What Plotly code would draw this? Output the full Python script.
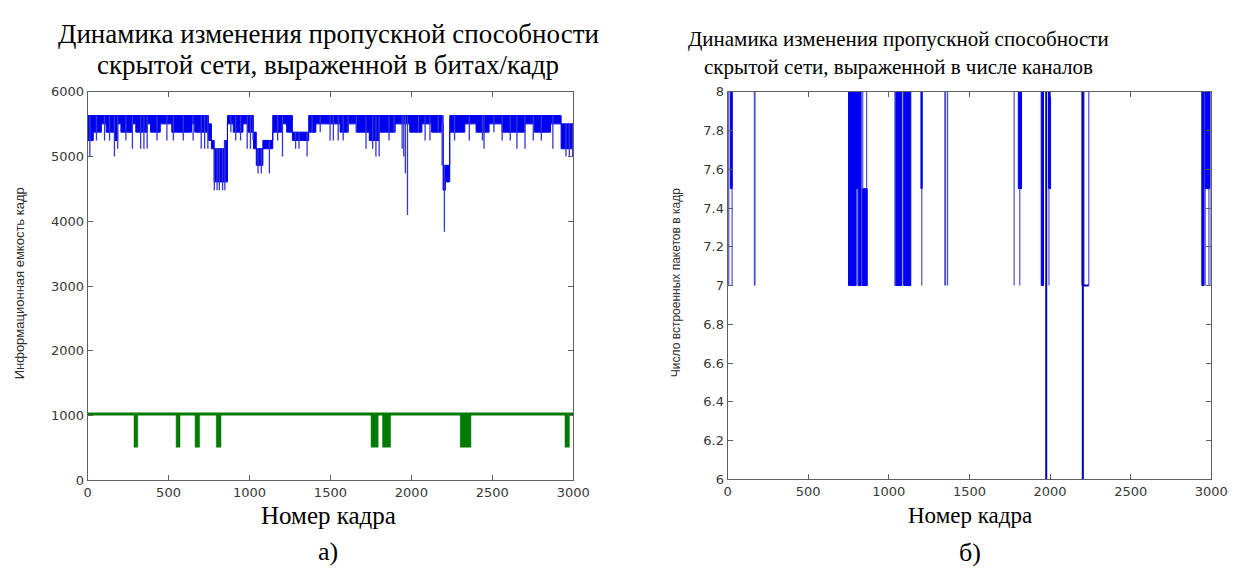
import plotly.graph_objects as go

# ---------------- Left chart data (bits per frame) ----------------
band_edges = [0, 35, 85, 115, 166, 186, 206, 277, 298, 368, 389, 449, 470, 520, 642, 662,
              747, 765, 782, 845, 864, 900, 960, 990, 1025, 1042, 1083, 1144, 1200, 1230,
              1265, 1366, 1410, 1560, 1610, 1660, 1740, 1800, 1832, 1900, 1960, 1990, 2065,
              2125, 2185, 2196, 2210, 2237, 2330, 2400, 2480, 2560, 2700, 2760, 2860, 2925, 3000]
band_top = [5632, 5632, 5632, 5632, 5632, 5632, 5632, 5632, 5632, 5632, 5632, 5632, 5632, 5632,
            5632, 5632, 5504, 5248, 5120, 5248, 5632, 5632, 5632, 5632, 5376, 5120, 5248, 5632,
            5632, 5632, 5376, 5632, 5632, 5632, 5632, 5632, 5632, 5632, 5632, 5632, 5632, 5632,
            5632, 5632, 5632, 4864, 4864, 5632, 5632, 5632, 5632, 5632, 5632, 5632, 5632, 5504]
band_bottom = [5248, 5376, 5504, 5376, 5248, 5504, 5376, 5504, 5376, 5504, 5376, 5504, 5504, 5376,
               5504, 5376, 5248, 5120, 4608, 4608, 5504, 5376, 5504, 5376, 5120, 4864, 5120, 5376,
               5504, 5376, 5248, 5376, 5504, 5376, 5504, 5376, 5248, 5376, 5376, 5504, 5504, 5376,
               5504, 5376, 5504, 4480, 4608, 5376, 5504, 5376, 5504, 5376, 5504, 5376, 5504, 5120]

spike_frames = [14, 55, 105, 136, 166, 186, 237, 277, 328, 348, 368, 429, 490, 530, 591, 652,
                702, 723, 743, 783, 800, 814, 834, 848, 885, 915, 945, 986, 1006, 1022, 1053,
                1073, 1123, 1174, 1204, 1285, 1306, 1356, 1387, 1437, 1498, 1518, 1548, 1579,
                1609, 1660, 1720, 1761, 1781, 1801, 1862, 1893, 1943, 1953, 1963, 1976, 2044,
                2085, 2115, 2166, 2190, 2204, 2267, 2358, 2439, 2449, 2510, 2561, 2611, 2652,
                2702, 2753, 2803, 2874, 2955, 2976, 2996]
spike_levels = [5000, 5248, 5248, 5248, 5000, 5120, 5248, 5120, 5120, 5120, 5120, 5248, 5248, 5248,
                5248, 5248, 5120, 5120, 5120, 4480, 4480, 4480, 4480, 4480, 5376, 5248, 5248, 5120,
                5120, 5248, 4736, 4736, 4736, 5248, 5000, 5120, 5120, 5000, 5376, 5376, 5248, 5248,
                5248, 5248, 5376, 5376, 5120, 5120, 5000, 5000, 5248, 5376, 5120, 5000, 4736, 4096,
                5376, 5248, 5248, 5376, 4864, 3840, 5248, 5248, 5248, 5120, 5376, 5248, 5248, 5120,
                5120, 5248, 5248, 5120, 5000, 5000, 5000]

green_high = 1024
green_low = 512
green_dip_start = [287, 547, 664, 795, 1751, 1822, 2302, 2949]
green_dip_end = [310, 571, 692, 824, 1795, 1872, 2368, 2976]

# ---------------- Right chart data (number of channels) ----------------
chan_base = 8
chan_block_start = [17, 750, 797, 810, 835, 1040, 1092, 1199, 1803, 1945, 1990, 2941, 2961]
chan_block_end = [29, 797, 810, 828, 866, 1081, 1136, 1207, 1823, 1959, 2003, 2955, 2992]
chan_block_top = [8, 8, 8, 8, 7.5, 8, 8, 8, 8, 8, 8, 8, 8]
chan_block_bottom = [7.5, 7, 7.5, 7, 7, 7, 7, 7.5, 7.5, 7, 7.5, 7, 7.5]

chan_line_frames = [7, 28, 166, 170, 803, 838, 862, 1038, 1204, 1347, 1352, 1364, 1777,
                    1812, 1993, 2197, 2210, 2240, 2962, 2985, 2998]
chan_line_top = [8, 7.5, 8, 8, 7.5, 8, 8, 8, 7.5, 8, 8, 8, 8, 7.5, 7.5, 8, 8, 8, 7.5, 7.5, 7.5]
chan_line_bottom = [7, 7, 7, 7, 7, 7.5, 7.5, 7, 7, 7, 7, 7, 7, 7, 7, 7, 7, 7, 7, 7, 7]

chan_deep_frames = [1976, 2203]
chan_deep_level = [6, 6]
chan_hold_start = [2203]
chan_hold_end = [2240]
chan_hold_level = [7]

x_ticks = [0, 500, 1000, 1500, 2000, 2500, 3000]
left_y_ticks = [0, 1000, 2000, 3000, 4000, 5000, 6000]
right_y_ticks = [6, 6.2, 6.4, 6.6, 6.8, 7, 7.2, 7.4, 7.6, 7.8, 8]
right_y_text = ["6", "6.2", "6.4", "6.6", "6.8", "7", "7.2", "7.4", "7.6", "7.8", "8"]

title_left = ["Динамика изменения пропускной способности",
              "скрытой сети, выраженной в битах/кадр"]
title_right = ["Динамика изменения пропускной способности",
               "скрытой сети, выраженной в числе каналов"]
ylabel_left = "Информационная емкость кадр"
ylabel_right = "Число встроенных пакетов в кадр"
xlabel = "Номер кадра"

# ---------------- Build traces ----------------
fig = go.Figure()

# blue band polygon
px, py = [], []
for i in range(len(band_top)):
    px += [band_edges[i], band_edges[i + 1]]
    py += [band_top[i], band_top[i]]
for i in reversed(range(len(band_bottom))):
    px += [band_edges[i + 1], band_edges[i]]
    py += [band_bottom[i], band_bottom[i]]
fig.add_trace(go.Scatter(x=px, y=py, mode="lines", fill="toself", fillcolor="#0000f0",
                         line=dict(color="#0000f0", width=1), xaxis="x", yaxis="y",
                         hoverinfo="skip", showlegend=False))

# blue spikes
sx, sy = [], []
for f, lv in zip(spike_frames, spike_levels):
    top = 5632
    for i in range(len(band_top)):
        if band_edges[i] <= f < band_edges[i + 1]:
            top = band_top[i]
    sx += [f, f, None]
    sy += [top, lv, None]
fig.add_trace(go.Scatter(x=sx, y=sy, mode="lines", line=dict(color="#3535d8", width=1.3),
                         xaxis="x", yaxis="y", hoverinfo="skip", showlegend=False))

# green series
fig.add_trace(go.Scatter(x=[0, 3000], y=[green_high, green_high], mode="lines",
                         line=dict(color="#007a00", width=3), xaxis="x", yaxis="y",
                         hoverinfo="skip", showlegend=False))
gx, gy = [], []
for s, e in zip(green_dip_start, green_dip_end):
    gx += [s, e, e, s, s, None]
    gy += [green_high, green_high, green_low, green_low, green_high, None]
fig.add_trace(go.Scatter(x=gx, y=gy, mode="lines", fill="toself", fillcolor="#007a00",
                         line=dict(color="#007a00", width=0.5), xaxis="x", yaxis="y",
                         hoverinfo="skip", showlegend=False))

# right chart (base level 8 coincides with the top frame)
bx, by = [], []
for s, e, t, b in zip(chan_block_start, chan_block_end, chan_block_top, chan_block_bottom):
    bx += [s, e, e, s, s, None]
    by += [t, t, b, b, t, None]
fig.add_trace(go.Scatter(x=bx, y=by, mode="lines", fill="toself", fillcolor="#0000f0",
                         line=dict(color="#0000f0", width=1), xaxis="x2", yaxis="y2",
                         hoverinfo="skip", showlegend=False))
lx, ly = [], []
for f, t, b in zip(chan_line_frames, chan_line_top, chan_line_bottom):
    lx += [f, f, None]
    ly += [t, b, None]
fig.add_trace(go.Scatter(x=lx, y=ly, mode="lines", line=dict(color="#5050d0", width=1.2),
                         xaxis="x2", yaxis="y2", hoverinfo="skip", showlegend=False))
dx, dy = [], []
for f, lv in zip(chan_deep_frames, chan_deep_level):
    dx += [f, f, None]
    dy += [chan_base, lv, None]
for s, e, lv in zip(chan_hold_start, chan_hold_end, chan_hold_level):
    dx += [s, e, None]
    dy += [lv, lv, None]
fig.add_trace(go.Scatter(x=dx, y=dy, mode="lines", line=dict(color="#0000b8", width=2),
                         xaxis="x2", yaxis="y2", hoverinfo="skip", showlegend=False))

W, H = 1248, 576
tickfont = dict(family="DejaVu Sans, Arial, sans-serif", size=13, color="#383838")
axis_common = dict(showline=True, linecolor="#606060", linewidth=1, mirror="ticks",
                   ticks="inside", ticklen=5, tickcolor="#606060", showgrid=False,
                   zeroline=False, tickfont=tickfont, layer="above traces")

fig.update_layout(
    width=W, height=H, margin=dict(l=0, r=0, t=0, b=0),
    paper_bgcolor="white", plot_bgcolor="white",
    xaxis=dict(domain=[85 / W, 579 / W], range=[0, 3000], tickvals=x_ticks, anchor="y",
               **axis_common),
    yaxis=dict(domain=[1 - 486 / H, 1 - 87 / H], range=[0, 6000], tickvals=left_y_ticks,
               anchor="x", **axis_common),
    xaxis2=dict(domain=[736 / W, 1228 / W], range=[0, 3000], tickvals=x_ticks, anchor="y2",
                **axis_common),
    yaxis2=dict(domain=[1 - 485 / H, 1 - 87 / H], range=[6, 8], tickvals=right_y_ticks,
                ticktext=right_y_text, anchor="x2", **axis_common),
)

serif = "Liberation Serif, Times New Roman, serif"
sans = "Liberation Sans, Arial, sans-serif"
ann = []
def add_text(text, xpx, ypx, size, family, angle=0, color="black"):
    ann.append(dict(text=text, x=xpx / W, y=1 - ypx / H, xref="paper", yref="paper",
                    showarrow=False, xanchor="center", yanchor="middle",
                    textangle=angle, font=dict(family=family, size=size, color=color)))

add_text(title_left[0], 330, 28, 27, serif)
add_text(title_left[1], 330, 60, 27, serif)
add_text(title_right[0], 910, 33, 21, serif)
add_text(title_right[1], 910, 62, 21, serif)
add_text(xlabel, 330, 522, 25, serif)
add_text(xlabel, 983, 522, 23, serif)
add_text("а)", 330, 559, 26, serif)
add_text("б)", 983, 560, 26, serif)
add_text(ylabel_left, 16, 284, 13, sans, angle=-90, color="#303030")
add_text(ylabel_right, 683, 283, 12, "Liberation Sans Narrow, Arial Narrow, sans-serif",
         angle=-90, color="#303030")
fig.update_layout(annotations=ann)

fig.write_html("out.html")
